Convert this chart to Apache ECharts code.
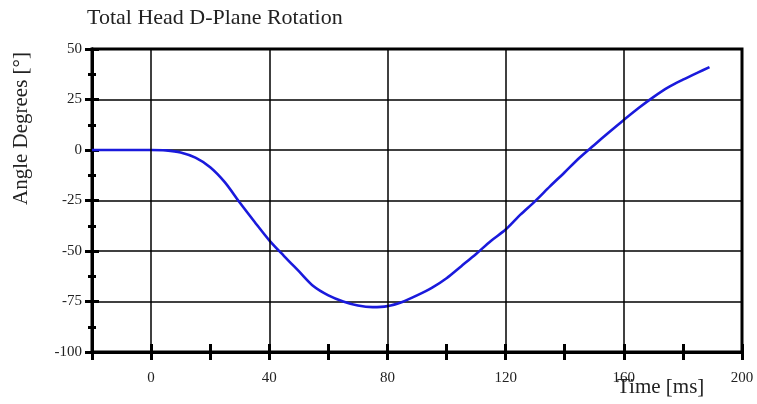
<!DOCTYPE html>
<html>
<head>
<meta charset="utf-8">
<script src="https://cdn.jsdelivr.net/npm/echarts@6/dist/echarts.min.js"></script>
<style>
html,body{margin:0;padding:0;background:#fff;}
#chart{width:757px;height:404px;}
</style>
</head>
<body>
<div id="chart"></div>
<script>
// Data
var timeMs = [-20, -10, 0, 5, 10, 15, 20, 25, 30, 35, 40, 45, 50, 55, 60, 65, 70, 75, 80, 85, 90, 95, 100, 105, 110, 115, 120, 125, 130, 135, 140, 145, 150, 155, 160, 165, 170, 175, 180, 185, 189];
var angleDeg = [0, 0, 0, -0.2, -1.2, -3.8, -8.5, -16, -26, -35.5, -44.7, -52.5, -60, -67.5, -72, -75, -77, -77.8, -77.3, -75.2, -72, -68.3, -63.5, -57.5, -51.5, -45, -39.4, -32, -25.3, -18, -11, -3.8, 2.5, 8.8, 14.9, 20.8, 26.2, 31, 34.8, 38.3, 41];
var xGridLines = [0, 40, 80, 120, 160];
var xLabelValues = [0, 40, 80, 120, 160, 200];
var titleText = 'Total Head D-Plane Rotation';
var yAxisTitle = 'Angle Degrees [\u00b0]';
var xAxisTitle = 'Time [ms]';

var serif = '"Liberation Serif", "DejaVu Serif", serif';
var chart = echarts.init(document.getElementById('chart'), null, {renderer: 'canvas'});

var seriesData = timeMs.map(function (t, i) { return [t, angleDeg[i]]; });

function xAxisBase(extra) {
  var a = {
    type: 'value', min: -20, max: 200, interval: 20, position: 'bottom',
    axisLine: {show: true, onZero: false, lineStyle: {color: '#000', width: 3}},
    splitLine: {show: false},
    axisLabel: {show: false},
    axisTick: {show: true, length: 8, lineStyle: {color: '#000', width: 3}}
  };
  for (var k in extra) a[k] = extra[k];
  return a;
}
function yAxisBase(extra) {
  var a = {
    type: 'value', min: -100, max: 50, interval: 25, position: 'left',
    axisLine: {show: true, onZero: false, lineStyle: {color: '#000', width: 3}},
    splitLine: {show: false},
    axisLabel: {show: false},
    axisTick: {show: true, length: 7, lineStyle: {color: '#000', width: 3}},
    minorTick: {show: true, splitNumber: 2, length: 4, lineStyle: {color: '#000', width: 3}}
  };
  for (var k in extra) a[k] = extra[k];
  return a;
}

var option = {
  backgroundColor: '#fff',
  animation: false,
  title: {
    text: titleText, left: 82, top: 2,
    textStyle: {fontFamily: serif, fontSize: 22, fontWeight: 'normal', color: '#222'}
  },
  grid: {left: 92, right: 15, top: 49, bottom: 52, show: true, borderColor: '#000', borderWidth: 3, backgroundColor: 'transparent'},
  xAxis: [
    xAxisBase({
      axisTick: {show: true, inside: true, length: 8, lineStyle: {color: '#000', width: 3}},
      axisLabel: {
        show: true, margin: 19, fontFamily: serif, fontSize: 15, color: '#222',
        formatter: function (v) { return xLabelValues.indexOf(v) >= 0 ? String(v) : ''; }
      }
    }),
    xAxisBase({})
  ],
  yAxis: [
    yAxisBase({
      splitLine: {show: true, lineStyle: {color: '#000', width: 1.5}},
      axisTick: {show: true, inside: true, length: 7, lineStyle: {color: '#000', width: 3}},
      minorTick: {show: true, splitNumber: 2, length: 4, lineStyle: {color: '#000', width: 3}},
      axisLabel: {show: true, margin: 10, fontFamily: serif, fontSize: 15, color: '#222'}
    }),
    yAxisBase({})
  ],
  graphic: [
    {type: 'text', left: 11, top: 52, rotation: Math.PI / 2,
     style: {text: yAxisTitle, font: '21px ' + serif, fill: '#222'}},
    {type: 'text', left: 617, top: 377,
     style: {text: xAxisTitle, font: '21px ' + serif, fill: '#222'}}
  ],
  series: [{
    type: 'line', xAxisIndex: 0, yAxisIndex: 0,
    data: seriesData, smooth: 0.3, showSymbol: false,
    lineStyle: {color: '#1a1adc', width: 2.6},
    markLine: {
      silent: true, symbol: ['none', 'none'], label: {show: false},
      lineStyle: {color: '#000', width: 1.5, type: 'solid'},
      data: xGridLines.map(function (v) { return {xAxis: v}; })
    }
  }]
};
chart.setOption(option);
</script>
</body>
</html>
